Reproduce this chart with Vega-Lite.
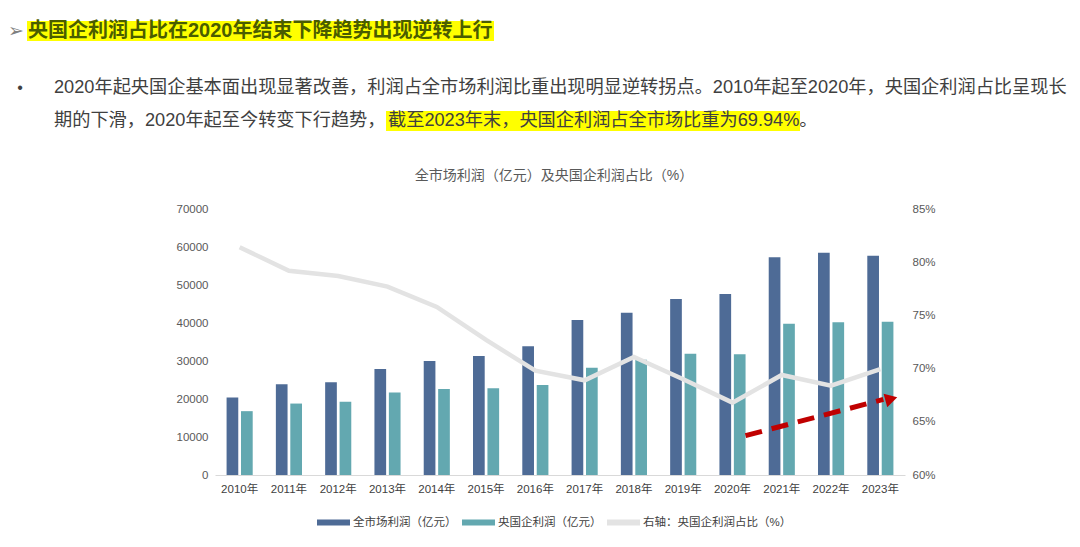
{
  "$schema": "https://vega.github.io/schema/vega-lite/v6.json",
  "width": 690,
  "height": 266,
  "autosize": {"type": "none"},
  "padding": {"left": 215, "top": 209, "right": 175, "bottom": 72},
  "background": "white",
  "config": {
    "font": "Liberation Sans, Noto Sans CJK SC",
    "view": {"stroke": null},
    "axis": {"grid": false}
  },
  "datasets": {
    "bars": [
      {"year": "2010年", "series": "全市场利润（亿元）", "value": 20400},
      {"year": "2011年", "series": "全市场利润（亿元）", "value": 23900},
      {"year": "2012年", "series": "全市场利润（亿元）", "value": 24400},
      {"year": "2013年", "series": "全市场利润（亿元）", "value": 27900},
      {"year": "2014年", "series": "全市场利润（亿元）", "value": 30000},
      {"year": "2015年", "series": "全市场利润（亿元）", "value": 31300},
      {"year": "2016年", "series": "全市场利润（亿元）", "value": 33900},
      {"year": "2017年", "series": "全市场利润（亿元）", "value": 40800},
      {"year": "2018年", "series": "全市场利润（亿元）", "value": 42700},
      {"year": "2019年", "series": "全市场利润（亿元）", "value": 46300},
      {"year": "2020年", "series": "全市场利润（亿元）", "value": 47600},
      {"year": "2021年", "series": "全市场利润（亿元）", "value": 57300},
      {"year": "2022年", "series": "全市场利润（亿元）", "value": 58500},
      {"year": "2023年", "series": "全市场利润（亿元）", "value": 57700},
      {"year": "2010年", "series": "央国企利润（亿元）", "value": 16800},
      {"year": "2011年", "series": "央国企利润（亿元）", "value": 18800},
      {"year": "2012年", "series": "央国企利润（亿元）", "value": 19300},
      {"year": "2013年", "series": "央国企利润（亿元）", "value": 21700},
      {"year": "2014年", "series": "央国企利润（亿元）", "value": 22600},
      {"year": "2015年", "series": "央国企利润（亿元）", "value": 22800},
      {"year": "2016年", "series": "央国企利润（亿元）", "value": 23700},
      {"year": "2017年", "series": "央国企利润（亿元）", "value": 28200},
      {"year": "2018年", "series": "央国企利润（亿元）", "value": 30300},
      {"year": "2019年", "series": "央国企利润（亿元）", "value": 31900},
      {"year": "2020年", "series": "央国企利润（亿元）", "value": 31800},
      {"year": "2021年", "series": "央国企利润（亿元）", "value": 39800},
      {"year": "2022年", "series": "央国企利润（亿元）", "value": 40200},
      {"year": "2023年", "series": "央国企利润（亿元）", "value": 40300}
    ],
    "ratio": [
      {"year": "2010年", "ratio": 81.4},
      {"year": "2011年", "ratio": 79.2},
      {"year": "2012年", "ratio": 78.7},
      {"year": "2013年", "ratio": 77.7},
      {"year": "2014年", "ratio": 75.8},
      {"year": "2015年", "ratio": 72.7},
      {"year": "2016年", "ratio": 69.8},
      {"year": "2017年", "ratio": 68.9},
      {"year": "2018年", "ratio": 71.1},
      {"year": "2019年", "ratio": 69.0},
      {"year": "2020年", "ratio": 66.8},
      {"year": "2021年", "ratio": 69.4},
      {"year": "2022年", "ratio": 68.4},
      {"year": "2023年", "ratio": 69.94}
    ],
    "arrow": [
      {"from": "2020年", "to": "2023年", "start": 63.7, "end": 67.1}
    ]
  },
  "layer": [
    {
      "data": {"values": [{}]},
      "mark": {"type": "rect", "x": -188, "x2": 279, "y": -188, "y2": -168, "color": "#ffff00"},
      "encoding": {}
    },
    {
      "data": {"values": [{}]},
      "mark": {"type": "rect", "x": 171, "x2": 585, "y": -98, "y2": -78, "color": "#ffff00"},
      "encoding": {}
    },
    {
      "data": {"values": [{"t": "➢"}]},
      "mark": {"type": "text", "x": -207, "y": -178, "align": "left", "baseline": "middle", "fontSize": 19, "color": "#808080", "font": "DejaVu Sans"},
      "encoding": {"text": {"field": "t"}}
    },
    {
      "data": {"values": [{"t": "央国企利润占比在2020年结束下降趋势出现逆转上行"}]},
      "mark": {"type": "text", "x": -187, "y": -178, "align": "left", "baseline": "middle", "fontSize": 20, "fontWeight": "bold", "color": "#4a5d00"},
      "encoding": {"text": {"field": "t"}}
    },
    {
      "data": {"values": [{"t": "•"}]},
      "mark": {"type": "text", "x": -195, "y": -121, "align": "center", "baseline": "middle", "fontSize": 16, "color": "#404040"},
      "encoding": {"text": {"field": "t"}}
    },
    {
      "data": {"values": [{"t": "2020年起央国企基本面出现显著改善，利润占全市场利润比重出现明显逆转拐点。2010年起至2020年，央国企利润占比呈现长"}]},
      "mark": {"type": "text", "x": -161, "y": -121, "align": "left", "baseline": "middle", "fontSize": 18.2, "color": "#404040"},
      "encoding": {"text": {"field": "t"}}
    },
    {
      "data": {"values": [{"t": "期的下滑，2020年起至今转变下行趋势，"}]},
      "mark": {"type": "text", "x": -161, "y": -88, "align": "left", "baseline": "middle", "fontSize": 18.2, "color": "#404040"},
      "encoding": {"text": {"field": "t"}}
    },
    {
      "data": {"values": [{"t": "截至2023年末，央国企利润占全市场比重为69.94%。"}]},
      "mark": {"type": "text", "x": 173, "y": -88, "align": "left", "baseline": "middle", "fontSize": 18.2, "color": "#404040"},
      "encoding": {"text": {"field": "t"}}
    },
    {
      "data": {"values": [{"t": "全市场利润（亿元）及央国企利润占比（%）"}]},
      "mark": {"type": "text", "x": 339, "y": -33, "align": "center", "baseline": "middle", "fontSize": 14, "color": "#595959"},
      "encoding": {"text": {"field": "t"}}
    },
    {
      "data": {"name": "bars"},
      "mark": {"type": "bar"},
      "encoding": {
        "x": {
          "field": "year",
          "type": "nominal",
          "scale": {"paddingInner": 0.47, "paddingOuter": 0.235},
          "axis": {"title": null, "labelAngle": 0, "ticks": false, "domainColor": "#d9d9d9", "domainWidth": 1, "labelPadding": 8, "labelFontSize": 11.5, "labelColor": "#404040"}
        },
        "xOffset": {
          "field": "series",
          "type": "nominal",
          "sort": ["全市场利润（亿元）", "央国企利润（亿元）"],
          "scale": {"paddingInner": 0.19}
        },
        "y": {
          "field": "value",
          "type": "quantitative",
          "scale": {"domain": [0, 70000], "nice": false},
          "axis": {"title": null, "orient": "left", "values": [0, 10000, 20000, 30000, 40000, 50000, 60000, 70000], "format": "d", "domain": false, "ticks": false, "labelPadding": 7, "labelFontSize": 11.5, "labelColor": "#595959"}
        },
        "color": {
          "field": "series",
          "type": "nominal",
          "scale": {
            "domain": ["全市场利润（亿元）", "央国企利润（亿元）", "右轴：央国企利润占比（%）"],
            "range": ["#4e6b96", "#63a8b0", "#e3e3e3"]
          },
          "legend": {
            "title": null,
            "orient": "none",
            "legendX": 102,
            "legendY": 297,
            "direction": "horizontal",
            "columns": 3,
            "columnPadding": 5,
            "padding": 0,
            "labelFontSize": 11.5,
            "labelColor": "#404040",
            "labelOffset": 3,
            "symbolType": "M-1,-0.18H1V0.18H-1Z",
            "symbolSize": 1089,
            "symbolStrokeWidth": 0,
            "symbolOpacity": 1,
            "encode": {
              "symbols": {"update": {"fill": {"scale": "color", "field": "value"}, "strokeWidth": {"value": 0}, "opacity": {"value": 1}}}
            }
          }
        }
      }
    },
    {
      "layer": [
        {
          "data": {"name": "ratio"},
          "mark": {"type": "line", "strokeWidth": 4.5},
          "encoding": {
            "x": {"field": "year", "type": "nominal"},
            "y": {
              "field": "ratio",
              "type": "quantitative",
              "scale": {"domain": [60, 85], "nice": false, "zero": false},
              "axis": {"title": null, "orient": "right", "values": [60, 65, 70, 75, 80, 85], "labelExpr": "datum.value + '%'", "domain": false, "ticks": false, "labelPadding": 7, "labelFontSize": 11.5, "labelColor": "#595959"}
            },
            "color": {"datum": "右轴：央国企利润占比（%）"}
          }
        },
        {
          "data": {"name": "arrow"},
          "mark": {"type": "rule", "color": "#c00000", "strokeWidth": 5, "strokeDash": [17, 10], "xOffset": 13, "x2Offset": 3},
          "encoding": {
            "x": {"field": "from", "type": "nominal"},
            "x2": {"field": "to"},
            "y": {"field": "start", "type": "quantitative"},
            "y2": {"field": "end"}
          }
        },
        {
          "data": {"name": "arrow"},
          "mark": {"type": "point", "shape": "triangle", "filled": true, "color": "#c00000", "opacity": 1, "size": 200, "angle": 75, "xOffset": 9},
          "encoding": {
            "x": {"field": "to", "type": "nominal"},
            "y": {"field": "end", "type": "quantitative"}
          }
        }
      ]
    }
  ],
  "resolve": {"scale": {"y": "independent"}}
}
